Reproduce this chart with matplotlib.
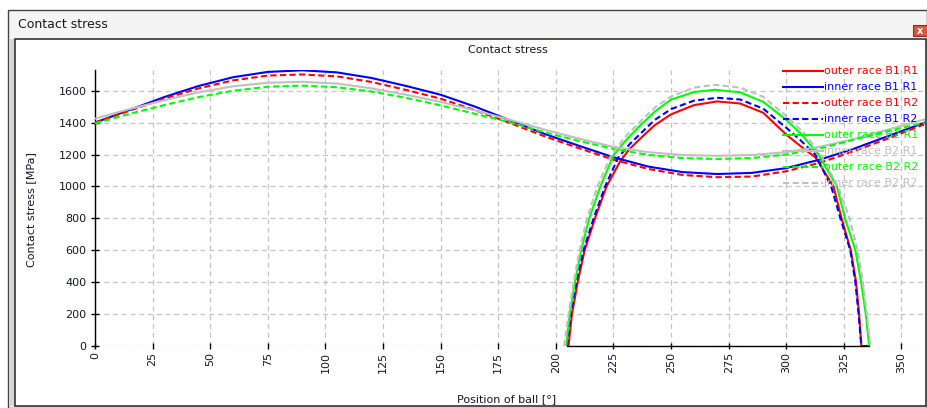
#!/usr/bin/env python
# coding=utf-8
"""
Contact stress of outer / inner races over ball position (screenshot remake)
"""

import matplotlib
matplotlib.use('Agg')
import matplotlib.pyplot as plt
from matplotlib.lines import Line2D
from matplotlib.patches import Rectangle

#  Series which run over the full revolution (read every 15 deg)
pos_wave = [0, 15, 30, 45, 60, 75, 90, 105, 120, 135, 150, 165, 180, 195,
            210, 225, 240, 255, 270, 285, 300, 315, 330, 345, 360]

inner_b1_r1 = [1400, 1480, 1560, 1630, 1685, 1718, 1728, 1715, 1680, 1630,
               1575, 1500, 1415, 1330, 1255, 1183, 1125, 1090, 1078, 1085,
               1115, 1170, 1240, 1320, 1400]
outer_b1_r2 = [1400, 1475, 1550, 1615, 1665, 1695, 1702, 1690, 1655, 1605,
               1550, 1478, 1398, 1315, 1240, 1168, 1110, 1072, 1058, 1062,
               1095, 1150, 1225, 1305, 1390]
inner_b2_r1 = [1425, 1485, 1540, 1590, 1628, 1650, 1656, 1645, 1615, 1575,
               1530, 1477, 1418, 1357, 1300, 1248, 1215, 1197, 1192, 1197,
               1215, 1250, 1300, 1360, 1420]
outer_b2_r2 = [1395, 1455, 1510, 1560, 1600, 1625, 1632, 1622, 1595, 1555,
               1508, 1455, 1402, 1340, 1285, 1235, 1198, 1178, 1172, 1178,
               1200, 1240, 1295, 1350, 1400]

#  Series with contact only between ~205 and ~336 deg
pos_outer_b1_r1 = [205.5, 207, 209.5, 212.5, 217, 222, 228, 232, 237, 243,
                   250, 260, 270, 280, 290, 300, 306, 312.8, 320.5, 324, 328,
                   330.3, 331.6, 332.6]
outer_b1_r1 = [0, 200, 400, 600, 800, 1000, 1160, 1235, 1305, 1385, 1452,
               1510, 1533, 1520, 1462, 1325, 1255, 1180, 1000, 800, 600, 400,
               200, 0]

pos_inner_b1_r2 = [204.8, 206.5, 208.9, 212, 216.4, 221.4, 227, 232, 237,
                   243, 250, 260, 270, 280, 290, 300, 306, 312.6, 319.5,
                   323.5, 327.8, 330, 331.4, 332.6, 336]
inner_b1_r2 = [0, 200, 400, 600, 800, 1000, 1180, 1265, 1335, 1418, 1485,
               1538, 1556, 1545, 1488, 1368, 1292, 1200, 1000, 800, 600, 400,
               200, 0, 0]

pos_outer_b2_r1 = [204.5, 206, 208.3, 211, 214.5, 219.3, 225, 231, 237, 243,
                   250, 260, 269, 280, 290, 300, 307, 314, 322, 325.5, 330,
                   332.5, 334.5, 336]
outer_b2_r1 = [0, 200, 400, 600, 800, 1000, 1195, 1300, 1388, 1470, 1545,
               1592, 1606, 1590, 1530, 1418, 1320, 1200, 1000, 800, 600, 400,
               200, 0]

pos_inner_b2_r2 = [203.6, 205.5, 207.7, 210.3, 213.5, 218.1, 223.6, 230, 237,
                   243, 250, 260, 269, 280, 290, 300, 308, 315, 322.5, 327.5,
                   331, 333.3, 335, 336.5]
inner_b2_r2 = [0, 200, 400, 600, 800, 1000, 1185, 1310, 1412, 1495, 1564,
               1620, 1637, 1620, 1562, 1442, 1330, 1200, 1000, 800, 600, 400,
               200, 0]

labels = ['outer race B1 R1', 'inner race B1 R1', 'outer race B1 R2',
          'inner race B1 R2', 'outer race B2 R1', 'inner race B2 R1',
          'outer race B2 R2', 'inner race B2 R2']
colors = ['#ff0000', '#0000ff', '#ff0000', '#0000ff',
          '#00ff00', '#c0c0c0', '#00ff00', '#c0c0c0']
dashed = [False, False, True, True, False, False, True, True]

x_ticks = list(range(0, 351, 25))
y_ticks = list(range(0, 1601, 200))

W, H = 927, 408


def fx(px):
    return px / W


def fy(py):
    return 1 - py / H


if __name__ == '__main__':

    plt.rcParams['font.family'] = ['DejaVu Sans']

    fig = plt.figure(figsize=(W / 100, H / 100), dpi=100)
    fig.patch.set_facecolor('white')

    #  Window frame (screenshot look)
    fig.add_artist(Rectangle((fx(8), fy(408)), fx(927) - fx(8),
                             fy(10) - fy(408), transform=fig.transFigure,
                             facecolor='#f4f4f4', edgecolor='#444444',
                             lw=1.0, zorder=0))
    fig.add_artist(Rectangle((fx(9), fy(406)), fx(15) - fx(9),
                             fy(39) - fy(406), transform=fig.transFigure,
                             facecolor='#d6d6d6', edgecolor='none', zorder=0))
    fig.add_artist(Rectangle((fx(15), fy(406)), fx(926) - fx(15),
                             fy(39) - fy(406), transform=fig.transFigure,
                             facecolor='white', edgecolor='#333333',
                             lw=1.2, zorder=0))
    fig.add_artist(Rectangle((fx(913), fy(36)), fx(927) - fx(913),
                             fy(25) - fy(36), transform=fig.transFigure,
                             facecolor='#d8583e', edgecolor='#8a3020',
                             lw=0.8, zorder=1))
    fig.text(fx(920), fy(30.5), 'x', color='white', fontsize=7,
             fontweight='bold', ha='center', va='center')
    fig.text(fx(18), fy(25), 'Contact stress', fontsize=9, color='#1a1a1a',
             va='center', ha='left')

    ax = fig.add_axes([fx(95), fy(346), fx(924.5) - fx(95),
                       fy(70) - fy(346)])
    ax.patch.set_alpha(0)

    series = [(pos_outer_b1_r1, outer_b1_r1),
              (pos_wave, inner_b1_r1),
              (pos_wave, outer_b1_r2),
              (pos_inner_b1_r2, inner_b1_r2),
              (pos_outer_b2_r1, outer_b2_r1),
              (pos_wave, inner_b2_r1),
              (pos_wave, outer_b2_r2),
              (pos_inner_b2_r2, inner_b2_r2)]

    for (xs, ys), lab, col, dsh in zip(series, labels, colors, dashed):
        line, = ax.plot(xs, ys, color=col, lw=1.5, label=lab, zorder=3)
        if dsh:
            line.set_dashes((3, 1.6))

    ax.set_xlim(0, 360)
    ax.set_ylim(0, 1730)
    ax.set_xticks(x_ticks)
    ax.set_yticks(y_ticks)
    ax.grid(True, color='#c4c4c4', ls=(0, (4, 3)), lw=0.9, zorder=1)
    ax.set_axisbelow(True)

    for side in ['top', 'right']:
        ax.spines[side].set_visible(False)
    ax.spines['left'].set_color('black')
    ax.spines['left'].set_linewidth(1.0)
    ax.spines['bottom'].set_color('black')
    ax.spines['bottom'].set_linewidth(1.0)
    ax.spines['bottom'].set_bounds(205, 336)
    ax.spines['bottom'].set_zorder(4)

    ax.tick_params(axis='x', direction='inout', length=5, width=1,
                   pad=1.5, labelsize=8, labelrotation=90,
                   labelcolor='#151530')
    ax.tick_params(axis='y', direction='inout', length=6, width=1,
                   pad=3, labelsize=8, labelcolor='#151530')

    ax.set_xlabel('Position of ball [°]', fontsize=8, color='#151530')
    ax.xaxis.label.set_va('center')
    ax.xaxis.set_label_coords(0.4967, (346 - 399) / 276.0)
    ax.set_ylabel('Contact stress [MPa]', fontsize=8, color='#151530')
    ax.yaxis.label.set_va('center')
    ax.yaxis.set_label_coords((31 - 95) / 829.5, 0.493)

    fig.text(fx(508), fy(50), 'Contact stress', fontsize=8, color='#151530',
             ha='center', va='center')

    #  Legend drawn at top right, text in line colour
    for i, (lab, col, dsh) in enumerate(zip(labels, colors, dashed)):
        yy = fy(70.7 + i * 16.1)
        leg_line = Line2D([fx(783), fx(823)], [yy, yy],
                          transform=fig.transFigure, color=col, lw=1.5,
                          zorder=5)
        if dsh:
            leg_line.set_dashes((3, 1.6))
        fig.add_artist(leg_line)
        fig.text(fx(824), yy, lab, color=col, fontsize=8, ha='left',
                 va='center', zorder=5)

    plt.savefig('out.png', dpi=100)
    plt.close()
